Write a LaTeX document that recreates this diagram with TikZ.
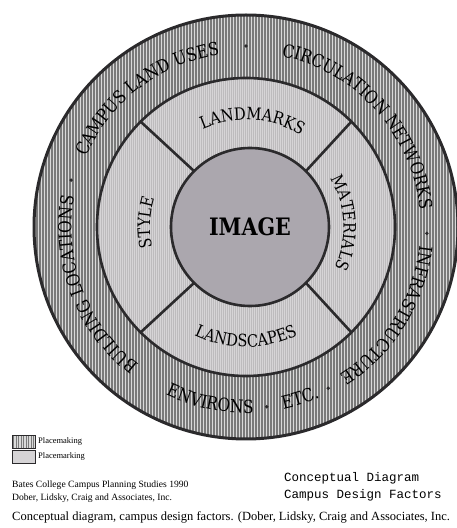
\documentclass[tikz,border=0pt]{standalone}
\usepackage{fontspec}
\setmainfont{Liberation Serif}
\newfontfamily\ringfont{DejaVu Serif}[FakeStretch=0.86]
\newfontfamily\typefont{Liberation Mono}
\usetikzlibrary{calc}
\usetikzlibrary{decorations.text}

\definecolor{ringgray}{HTML}{DADADA}
\definecolor{stripegray}{HTML}{7A7A7A}
\definecolor{midgray}{HTML}{D6D4D6}
\definecolor{midstripe}{HTML}{BDBBBD}
\definecolor{coregray}{HTML}{ABA7AE}
\definecolor{inkgray}{HTML}{2B2A2C}

\tikzset{
  ringline/.style={draw=inkgray, line width=2.6pt},
  stripe/.style={stripegray, line width=1.1pt},
  softstripe/.style={midstripe, line width=0.8pt},
  legendtext/.style={anchor=west, inner sep=0pt, font=\fontsize{8.5}{9}\selectfont},
  credittext/.style={anchor=west, inner sep=0pt, font=\fontsize{9.6}{10}\selectfont},
  titletext/.style={anchor=west, inner sep=0pt, font=\typefont\fontsize{12.5}{13}\selectfont},
}

% text along an arc: radius, start angle, end angle, size, text
\newcommand{\arctext}[5]{%
  \path[decorate, decoration={text along path, text align=center,
    text={|\ringfont\fontsize{#4}{#4}\selectfont|#5}}]
    ($(C)+(#2:#1pt)$) arc[start angle=#2, end angle=#3, radius=#1pt];}

\begin{document}
\begin{tikzpicture}[x=1pt,y=1pt]

\useasboundingbox (0,0) rectangle (457,528);

% Centres
\coordinate (C) at (246,301);
\coordinate (Ci) at (250,301);

% Outer ring with vertical hatching
\fill[ringgray] (C) circle (212pt);
\begin{scope}
  \clip (C) circle (212pt);
  \foreach \x in {34,37,...,460}
    \draw[stripe] (\x,80) -- (\x,520);
\end{scope}

% Middle ring
\fill[midgray] (C) circle (149pt);
\begin{scope}
  \clip (C) circle (149pt);
  \foreach \x in {97,99,...,397}
    \draw[softstripe] (\x,145) -- (\x,455);
\end{scope}

% Core
\fill[coregray] (Ci) circle (79pt);

% Outlines
\draw[ringline, line width=3pt] (C) circle (212pt);
\draw[ringline] (C) circle (149pt);
\draw[ringline] (Ci) circle (79pt);
\foreach \a in {45,135,225,315}
  \draw[ringline] ($(Ci)+(\a:79pt)$) -- ($(C)+(\a:149pt)$);

% Core label
\node[font=\ringfont\bfseries\fontsize{24}{24}\selectfont] (image) at (Ci) {IMAGE};

% Middle ring labels
\arctext{107}{146}{27}{17}{LANDMARKS}
\arctext{120}{-150}{-30}{17}{LANDSCAPES}
\arctext{97.5}{60}{-55}{17}{MATERIALS}
\arctext{96}{215}{140}{17}{STYLE}

% Outer ring labels
\arctext{174.5}{251}{151}{18}{BUILDING LOCATIONS}
\arctext{174.5}{177.5}{77.5}{18}{CAMPUS LAND USES}
\arctext{174.5}{92}{-8}{18}{CIRCULATION NETWORKS}
\arctext{174.5}{18}{-82}{18}{INFRASTRUCTURE}
\arctext{186}{-141.6}{-61.6}{18}{ENVIRONS}
\arctext{186}{-102.5}{-42.5}{18}{ETC.}

% Separating dots
\foreach \a in {165,90,-2,-83.4,-63}
  \fill[inkgray] ($(C)+(\a:181pt)$) circle (1.9pt);

% Legend
\fill[ringgray] (12,80) rectangle (35,93);
\foreach \x in {13.5,16,...,34}
  \draw[stripe, line width=0.7pt] (\x,80) -- (\x,93);
\draw[inkgray, line width=0.5pt] (12,80) rectangle (35,93);
\fill[midgray] (12,65) rectangle (35,78);
\draw[inkgray, line width=0.5pt] (12,65) rectangle (35,78);
\node[legendtext] (placemaking) at (38,86.5) {Placemaking};
\node[legendtext] (placemarking) at (38,71.5) {Placemarking};

% Credits
\node[credittext] (studies) at (12,43) {Bates College Campus Planning Studies 1990};
\node[credittext] (firm) at (12,30) {Dober, Lidsky, Craig and Associates, Inc.};
\node[titletext] (title) at (284,50) {Conceptual Diagram};
\node[titletext] (subtitle) at (284,33) {Campus Design Factors};
\node[anchor=west, inner sep=0pt, font=\fontsize{12.5}{13}\selectfont] (caption) at (12,11)
  {Conceptual diagram, campus design factors. (Dober, Lidsky, Craig and Associates, Inc.};

\end{tikzpicture}
\end{document}
